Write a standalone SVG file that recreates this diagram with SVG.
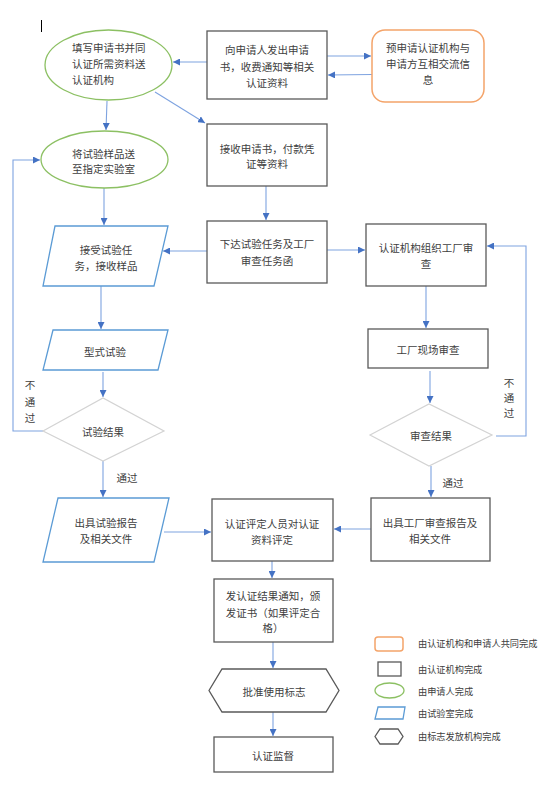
<svg xmlns="http://www.w3.org/2000/svg" width="552" height="789" viewBox="0 0 552 789">
<defs>
<marker id="ah" viewBox="0 0 10 10" refX="10" refY="5" markerWidth="7" markerHeight="7" markerUnits="userSpaceOnUse" orient="auto">
<path d="M0,0 L10,5 L0,10 z" fill="#4472c4"/>
</marker>
</defs>
<style>
text{font-family:"Noto Sans CJK SC","Liberation Sans",sans-serif;font-size:10.5px;fill:#404040;dominant-baseline:central}
.c{text-anchor:middle}
.lg{font-size:9.2px}
.box{fill:#fff;stroke:#595959;stroke-width:1.3}
.ell{fill:#fff;stroke:#8cc063;stroke-width:1.3}
.org{fill:#fff;stroke:#f4a46a;stroke-width:1.5}
.par{fill:#fff;stroke:#5b9bd5;stroke-width:1.3}
.dia{fill:#fff;stroke:#d3d3d3;stroke-width:1.2}
.hex{fill:#fff;stroke:#595959;stroke-width:1.3}
.ln{fill:none;stroke:#7ea3e0;stroke-width:1.1}
.ar{fill:none;stroke:#7ea3e0;stroke-width:1.1;marker-end:url(#ah)}
</style>
<rect width="552" height="789" fill="#fff"/>
<line x1="41.5" y1="20" x2="41.5" y2="32" stroke="#000" stroke-width="1"/>

<g id="connectors">
<line class="ar" x1="207" y1="62" x2="173" y2="62"/>
<line class="ar" x1="327" y1="56" x2="371" y2="56"/>
<line class="ar" x1="372" y1="74.5" x2="328" y2="75"/>
<line class="ar" x1="155" y1="92" x2="205" y2="123"/>
<line class="ar" x1="107" y1="101" x2="106" y2="130"/>
<line class="ar" x1="266" y1="186" x2="266" y2="220"/>
<line class="ar" x1="207" y1="251" x2="163" y2="251"/>
<line class="ar" x1="104" y1="188" x2="104" y2="225"/>
<line class="ar" x1="101" y1="286" x2="101" y2="329"/>
<line class="ar" x1="103" y1="372" x2="103" y2="397"/>
<polyline class="ar" points="43,431 13,431 13,160 40,160"/>
<line class="ar" x1="103" y1="461" x2="103" y2="497"/>
<line class="ar" x1="164" y1="532" x2="211" y2="532"/>
<line class="ar" x1="272" y1="561" x2="272" y2="578"/>
<line class="ar" x1="273" y1="642" x2="273" y2="668"/>
<line class="ar" x1="273" y1="712" x2="273" y2="736"/>
<line class="ar" x1="327" y1="250" x2="365" y2="250"/>
<line class="ar" x1="426" y1="286" x2="426" y2="328"/>
<line class="ar" x1="430" y1="371" x2="430" y2="403"/>
<polyline class="ar" points="496,436 526,436 526,246 487,246"/>
<line class="ar" x1="431" y1="466" x2="431" y2="497"/>
<line class="ar" x1="371" y1="529" x2="334" y2="529"/>
</g>

<g id="n_fill">
<ellipse class="ell" cx="108.5" cy="65" rx="63.5" ry="35"/>
<text x="72" y="47">填写申请书并同</text>
<text x="72" y="63">认证所需资料送</text>
<text x="72" y="79">认证机构</text>
</g>
<g id="n_send_sample">
<ellipse class="ell" cx="104.5" cy="159.5" rx="63.5" ry="28.5"/>
<text x="72" y="153">将试验样品送</text>
<text x="72" y="168">至指定实验室</text>
</g>
<g id="n_issue_form">
<rect class="box" x="207" y="31" width="120" height="68"/>
<text class="c" x="267" y="49">向申请人发出申请</text>
<text class="c" x="267" y="66">书，收费通知等相关</text>
<text class="c" x="267" y="82">认证资料</text>
</g>
<g id="n_pre">
<rect class="org" x="372" y="30" width="112" height="72" rx="13"/>
<text class="c" x="428" y="47">预申请认证机构与</text>
<text class="c" x="428" y="63">申请方互相交流信</text>
<text class="c" x="428" y="79">息</text>
</g>
<g id="n_receive">
<rect class="box" x="207" y="124" width="120" height="62"/>
<text class="c" x="267" y="148">接收申请书，付款凭</text>
<text class="c" x="267" y="163">证等资料</text>
</g>
<g id="n_task">
<rect class="box" x="207" y="221" width="120" height="62"/>
<text class="c" x="267" y="243">下达试验任务及工厂</text>
<text class="c" x="267" y="260">审查任务函</text>
</g>
<g id="n_accept">
<polygon class="par" points="55,226 168,226 154,286 43,286"/>
<text class="c" x="106" y="249">接受试验任</text>
<text class="c" x="106" y="265">务，接收样品</text>
</g>
<g id="n_type_test">
<polygon class="par" points="53,330 168,330 158,370 43,370"/>
<text class="c" x="105" y="351">型式试验</text>
</g>
<g id="n_test_result">
<polygon class="dia" points="43,431 103,398 164,431 103,461"/>
<text class="c" x="103" y="431">试验结果</text>
</g>
<g id="lbl_fail1">
<text class="c" x="30" y="384">不</text>
<text class="c" x="30" y="401">通</text>
<text class="c" x="30" y="417">过</text>
</g>
<g id="lbl_pass1"><text class="c" x="127" y="477">通过</text></g>
<g id="n_test_report">
<polygon class="par" points="58,498 169,498 154,562 43,562"/>
<text class="c" x="106" y="522">出具试验报告</text>
<text class="c" x="106" y="538">及相关文件</text>
</g>
<g id="n_evaluate">
<rect class="box" x="212" y="499" width="121" height="62"/>
<text class="c" x="272" y="523">认证评定人员对认证</text>
<text class="c" x="272" y="539">资料评定</text>
</g>
<g id="n_certificate">
<rect class="box" x="214" y="579" width="119" height="63"/>
<text class="c" x="273" y="595">发认证结果通知，颁</text>
<text class="c" x="273" y="612">发证书（如果评定合</text>
<text class="c" x="273" y="627">格）</text>
</g>
<g id="n_mark">
<polygon class="hex" points="209,690.5 222,669 326,669 339,690.5 326,712 222,712"/>
<text class="c" x="274" y="691">批准使用标志</text>
</g>
<g id="n_supervise">
<rect class="box" x="214" y="737" width="119" height="35"/>
<text class="c" x="273" y="755">认证监督</text>
</g>
<g id="n_factory_org">
<rect class="box" x="366" y="224" width="120" height="62"/>
<text class="c" x="426" y="247">认证机构组织工厂审</text>
<text class="c" x="426" y="263">查</text>
</g>
<g id="n_factory_site">
<rect class="box" x="368" y="329" width="120" height="39"/>
<text class="c" x="428" y="349">工厂现场审查</text>
</g>
<g id="n_audit_result">
<polygon class="dia" points="370,435 429,404 492,435 429,466"/>
<text class="c" x="431" y="435">审查结果</text>
</g>
<g id="lbl_fail2">
<text class="c" x="509" y="382">不</text>
<text class="c" x="509" y="397">通</text>
<text class="c" x="509" y="412">过</text>
</g>
<g id="lbl_pass2"><text class="c" x="453" y="482">通过</text></g>
<g id="n_audit_report">
<rect class="box" x="371" y="498" width="119" height="63"/>
<text class="c" x="430" y="522">出具工厂审查报告及</text>
<text class="c" x="430" y="538">相关文件</text>
</g>

<g id="legend">
<rect class="org" x="375" y="637" width="28" height="14" rx="3"/>
<text class="lg" x="418" y="643">由认证机构和申请人共同完成</text>
<rect class="box" x="378" y="662" width="23" height="14"/>
<text class="lg" x="418" y="669">由认证机构完成</text>
<ellipse class="ell" cx="389.5" cy="690.5" rx="14.5" ry="7.5"/>
<text class="lg" x="418" y="691">由申请人完成</text>
<polygon class="par" points="378,707 405,707 403,719 375,719"/>
<text class="lg" x="418" y="713">由试验室完成</text>
<polygon class="hex" points="375,736.5 380,729 398,729 403,736.5 398,744 380,744"/>
<text class="lg" x="418" y="736">由标志发放机构完成</text>
</g>
</svg>
